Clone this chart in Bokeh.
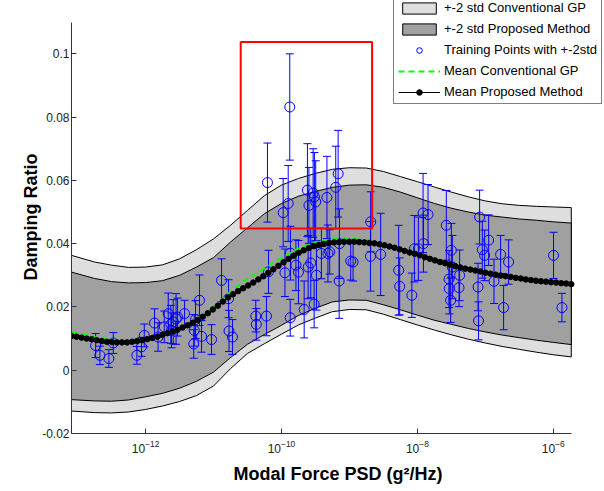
import numpy as np
from bokeh.plotting import figure
from bokeh.models import (Range1d, FixedTicker, LogTickFormatter, Legend, LegendItem,
                          ColumnDataSource)
from bokeh.embed import file_html
from bokeh.resources import INLINE

# ---------------- data ----------------
band_exp = [-13.09, -12.75, -12.5, -12.25, -12.0, -11.75, -11.5, -11.25, -11.0, -10.75,
            -10.5, -10.25, -10.0, -9.75, -9.5, -9.25, -9.0, -8.75, -8.5, -8.25,
            -8.0, -7.75, -7.5, -7.25, -7.0, -6.75, -6.5, -6.25, -6.0, -5.735]
conv_upper = [0.0363, 0.0342, 0.0332, 0.0325, 0.0326, 0.0333, 0.0352, 0.0381, 0.0415, 0.0458,
              0.0505, 0.0552, 0.0585, 0.0606, 0.0622, 0.0635, 0.0640, 0.0639, 0.0628, 0.0612,
              0.0596, 0.0579, 0.0563, 0.0548, 0.0535, 0.0526, 0.0521, 0.0518, 0.0516, 0.0514]
conv_lower = [-0.0129, -0.0134, -0.0135, -0.0132, -0.0124, -0.0113, -0.0099, -0.0080, -0.0050, 0.0005,
              0.0053, 0.0084, 0.0114, 0.0143, 0.0165, 0.0185, 0.0192, 0.0191, 0.0177, 0.0160,
              0.0143, 0.0127, 0.0112, 0.0098, 0.0086, 0.0075, 0.0066, 0.0057, 0.0049, 0.0042]
prop_upper = [0.0310, 0.0290, 0.0280, 0.0276, 0.0277, 0.0283, 0.0300, 0.0326, 0.0356, 0.0405,
              0.0450, 0.0495, 0.0527, 0.0550, 0.0565, 0.0578, 0.0585, 0.0586, 0.0578, 0.0563,
              0.0545, 0.0527, 0.0512, 0.0500, 0.0490, 0.0484, 0.0478, 0.0474, 0.0469, 0.0465]
prop_lower = [-0.0093, -0.0097, -0.0098, -0.0094, -0.0084, -0.0073, -0.0057, -0.0035, -0.0006, 0.0040,
              0.0082, 0.0113, 0.0142, 0.0173, 0.0196, 0.0216, 0.0222, 0.0221, 0.0207, 0.0191,
              0.0174, 0.0158, 0.0145, 0.0132, 0.0121, 0.0111, 0.0103, 0.0095, 0.0088, 0.0081]
conv_mean = [0.0122, 0.0105, 0.0097, 0.0094, 0.0098, 0.0110, 0.0130, 0.0160, 0.0200, 0.0248,
             0.0290, 0.0322, 0.0355, 0.0385, 0.0405, 0.0414, 0.0416, 0.0411, 0.0399, 0.0385,
             0.0370, 0.0352, 0.0336, 0.0322, 0.0311, 0.0302, 0.0294, 0.0287, 0.0281, 0.0276]

mean_exp_start, mean_exp_end = -13.09, -5.735
prop_mean = [0.0108, 0.0106, 0.0103, 0.0100, 0.0098, 0.0095, 0.0092, 0.0090, 0.0089, 0.0088,
             0.0088, 0.0088, 0.0090, 0.0092, 0.0095, 0.0098, 0.0102, 0.0106, 0.0111, 0.0117,
             0.0122, 0.0128, 0.0135, 0.0142, 0.0150, 0.0159, 0.0169, 0.0180, 0.0192, 0.0204,
             0.0217, 0.0230, 0.0240, 0.0250, 0.0259, 0.0268, 0.0277, 0.0287, 0.0297, 0.0308,
             0.0319, 0.0330, 0.0341, 0.0352, 0.0362, 0.0371, 0.0379, 0.0386, 0.0392, 0.0396,
             0.0399, 0.0402, 0.0404, 0.0405, 0.0406, 0.0406, 0.0406, 0.0405, 0.0404, 0.0402,
             0.0401, 0.0398, 0.0395, 0.0391, 0.0387, 0.0382, 0.0377, 0.0372, 0.0368, 0.0363,
             0.0357, 0.0352, 0.0347, 0.0342, 0.0338, 0.0334, 0.0329, 0.0325, 0.0321, 0.0318,
             0.0315, 0.0312, 0.0308, 0.0305, 0.0302, 0.0299, 0.0297, 0.0295, 0.0292, 0.0290,
             0.0287, 0.0285, 0.0283, 0.0281, 0.0280, 0.0278, 0.0277, 0.0275, 0.0274, 0.0272]

pts_exp = [-12.735, -12.672, -12.540, -12.475, -12.128, -12.059, -12.019, -11.868, -11.816, -11.725,
           -11.666, -11.628, -11.618, -11.593, -11.551, -11.529, -11.426, -11.291, -11.284, -11.265,
           -11.206, -11.176, -11.029, -10.882, -10.779, -10.772, -10.721, -10.378, -10.370, -10.221,
           -10.206, -10.191, -9.975, -9.949, -9.901, -9.878, -9.868, -9.871, -9.787, -9.750,
           -9.666, -9.618, -9.596, -9.607, -9.569, -9.534, -9.515, -9.496, -9.485, -9.519,
           -9.412, -9.331, -9.316, -9.290, -9.201, -9.166, -9.147, -9.151, -8.981, -8.946,
           -8.687, -8.690, -8.540, -8.275, -8.260, -8.081, -8.044, -7.985, -7.916, -7.910,
           -7.843, -7.574, -7.534, -7.530, -7.500, -7.485, -7.510, -7.378, -7.387, -7.084,
           -7.107, -7.100, -7.044, -7.010, -6.951, -6.872, -6.775, -6.731, -6.657, -5.996,
           -5.872]
pts_y = [0.0078, 0.0047, 0.0037, 0.0086, 0.0047, 0.0074, 0.0110, 0.0149, 0.0105, 0.0137,
         0.0179, 0.0145, 0.0126, 0.0153, 0.0162, 0.0168, 0.0179, 0.0083, 0.0126, 0.0160,
         0.0221, 0.0107, 0.0097, 0.0284, 0.0226, 0.0124, 0.0105, 0.0171, 0.0145, 0.0171,
         0.0593, 0.0311, 0.0498, 0.0308, 0.0527, 0.0832, 0.0370, 0.0166, 0.0332, 0.0310,
         0.0192, 0.0569, 0.0521, 0.0326, 0.0339, 0.0560, 0.0548, 0.0532, 0.0300, 0.0209,
         0.0369, 0.0546, 0.0369, 0.0374, 0.0578, 0.0621, 0.0400, 0.0282, 0.0345, 0.0342,
         0.0469, 0.0360, 0.0366, 0.0316, 0.0265, 0.0237, 0.0384, 0.0384, 0.0497, 0.0400,
         0.0492, 0.0458, 0.0288, 0.0258, 0.0379, 0.0326, 0.0221, 0.0300, 0.0261, 0.0484,
         0.0263, 0.0156, 0.0381, 0.0363, 0.0411, 0.0281, 0.0366, 0.0198, 0.0342, 0.0363,
         0.0198]
pts_err = [0.0038, 0.0029, 0.0028, 0.0033, 0.0028, 0.0030, 0.0036, 0.0045, 0.0045, 0.0050,
           0.0065, 0.0060, 0.0055, 0.0070, 0.0080, 0.0060, 0.0042, 0.0045, 0.0050, 0.0060,
           0.0080, 0.0050, 0.0047, 0.0068, 0.0060, 0.0065, 0.0055, 0.0050, 0.0050, 0.0062,
           0.0125, 0.0068, 0.0108, 0.0075, 0.0120, 0.0168, 0.0085, 0.0058, 0.0080, 0.0100,
           0.0090, 0.0147, 0.0120, 0.0100, 0.0110, 0.0140, 0.0140, 0.0130, 0.0110, 0.0075,
           0.0080, 0.0130, 0.0090, 0.0070, 0.0130, 0.0137, 0.0110, 0.0118, 0.0060, 0.0060,
           0.0095, 0.0110, 0.0130, 0.0142, 0.0090, 0.0070, 0.0105, 0.0100, 0.0125, 0.0090,
           0.0095, 0.0110, 0.0090, 0.0080, 0.0085, 0.0100, 0.0070, 0.0080, 0.0060, 0.0085,
           0.0075, 0.0060, 0.0090, 0.0080, 0.0080, 0.0070, 0.0060, 0.0070, 0.0070, 0.0073,
           0.0045]

box_exp = [-10.60, -8.666]     # red highlight box, x extent (exponents)
box_y = [0.0448, 0.1037]        # red highlight box, y extent

x_tick_exp = [-12, -10, -8, -6]
y_ticks = [-0.02, 0.0, 0.02, 0.04, 0.06, 0.08, 0.1]
y_tick_labels = ["-0.02", "0", "0.02", "0.04", "0.06", "0.08", "0.1"]
x_axis_exp = [-13.09, -5.735]      # drawn extent of the x axis
y_axis_lim = [-0.02, 0.11]         # drawn extent of the y axis
x_view_exp = [-13.09, -5.246]      # visible area (room for the legend)
y_view = [-0.02, 0.11685]

# ---------------- figure ----------------
FONT = "Liberation Sans"
BLUE = "#0000ff"
p = figure(width=604, height=491, x_axis_type="log", output_backend="svg",
           toolbar_location=None,
           x_range=Range1d(10 ** x_view_exp[0], 10 ** x_view_exp[1]),
           y_range=Range1d(y_view[0], y_view[1]),
           min_border_left=71, min_border_right=0, min_border_top=0, min_border_bottom=58)
p.outline_line_color = None
p.grid.visible = False
p.background_fill_color = "white"
p.border_fill_color = "white"

bx = [10 ** e for e in band_exp]
bx_rev = bx[::-1]

light = p.patch(bx + bx_rev, conv_upper + conv_lower[::-1], fill_color="#dedede",
                line_color="black", line_width=1)
dark = p.patch(bx + bx_rev, prop_upper + prop_lower[::-1], fill_color="#a0a0a0",
               line_color="black", line_width=1)

px_ = [10 ** e for e in pts_exp]
up = [a + b for a, b in zip(pts_y, pts_err)]
lo = [a - b for a, b in zip(pts_y, pts_err)]
src = ColumnDataSource(dict(x=px_, y=pts_y, upper=up, lower=lo))
p.segment(x0="x", x1="x", y0="lower", y1="upper", source=src, line_color=BLUE, line_width=1)
p.scatter(x="x", y="upper", source=src, marker="dash", size=8, line_color=BLUE, line_width=1)
p.scatter(x="x", y="lower", source=src, marker="dash", size=8, line_color=BLUE, line_width=1)
pts = p.scatter("x", "y", source=src, marker="circle", size=10, fill_color=None,
                line_color=BLUE, line_width=1)

green = p.line(bx, conv_mean, line_color="#00ff00", line_width=2, line_dash="6 4")

mx = [10 ** e for e in np.linspace(mean_exp_start, mean_exp_end, len(prop_mean))]
bl = p.line(mx, prop_mean, line_color="black", line_width=1)
bd = p.scatter(mx, prop_mean, marker="circle", size=5.5, fill_color="black", line_color="black")

p.quad(left=[10 ** box_exp[0]], right=[10 ** box_exp[1]], bottom=[box_y[0]], top=[box_y[1]],
       fill_color=None, line_color="#ff0000", line_width=2)

# axes
p.xaxis.ticker = FixedTicker(ticks=[10 ** e for e in x_tick_exp])
p.xaxis.formatter = LogTickFormatter()
p.xaxis.bounds = (10 ** x_axis_exp[0], 10 ** x_axis_exp[1])
p.yaxis.ticker = FixedTicker(ticks=y_ticks)
p.yaxis.major_label_overrides = {t: l for t, l in zip(y_ticks, y_tick_labels)}
p.yaxis.bounds = (y_axis_lim[0], y_axis_lim[1])
for ax in (p.xaxis[0], p.yaxis[0]):
    ax.axis_line_color = "#333333"
    ax.major_tick_line_color = "#333333"
    ax.major_tick_in = 5
    ax.major_tick_out = 0
    ax.minor_tick_line_color = None
    ax.major_label_text_font = FONT
    ax.major_label_text_font_size = "12px"
    ax.major_label_text_color = "#222222"
    ax.axis_label_text_font = FONT
    ax.axis_label_text_font_style = "bold"
    ax.axis_label_text_font_size = "18px"
    ax.axis_label_text_color = "black"
p.xaxis.axis_label = "Modal Force PSD (g²/Hz)"
p.yaxis.axis_label = "Damping Ratio"
p.xaxis.major_label_standoff = 6
p.xaxis.axis_label_standoff = 8
p.yaxis.major_label_standoff = 2
p.yaxis.axis_label_standoff = -2

legend = Legend(items=[
    LegendItem(label="+-2 std Conventional GP", renderers=[light]),
    LegendItem(label="+-2 std Proposed Method", renderers=[dark]),
    LegendItem(label="Training Points with +-2std", renderers=[pts]),
    LegendItem(label="Mean Conventional GP", renderers=[green]),
    LegendItem(label="Mean Proposed Method", renderers=[bl, bd]),
], location=(322, 329))
legend.label_text_font = FONT
legend.label_text_font_size = "13px"
legend.label_text_color = "black"
legend.glyph_width = 42
legend.glyph_height = 14
legend.label_height = 14
legend.spacing = 6
legend.padding = 4
legend.margin = 0
legend.label_standoff = 4
legend.border_line_color = "black"
legend.border_line_width = 1
legend.background_fill_color = "white"
legend.background_fill_alpha = 1
p.add_layout(legend, "center")

open("out.html", "w").write(file_html(p, INLINE))
